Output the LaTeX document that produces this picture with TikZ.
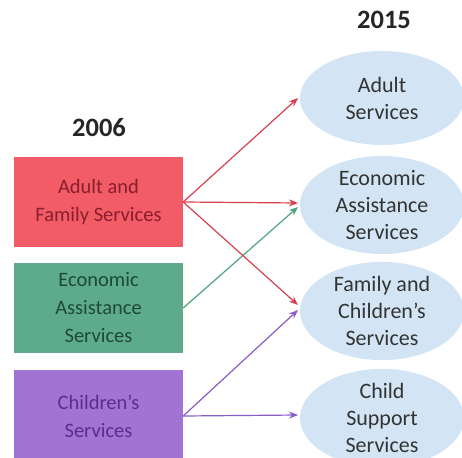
\documentclass[tikz,border=0pt]{standalone}
\usepackage{fontspec}
\setmainfont{Carlito}
\usetikzlibrary{shapes.geometric,arrows.meta}
\definecolor{rbox}{HTML}{F25C66}
\definecolor{gbox}{HTML}{5EAA8D}
\definecolor{pbox}{HTML}{A173D2}
\definecolor{ell}{HTML}{D3E5F5}
\definecolor{rtxt}{HTML}{8A1E2C}
\definecolor{gtxt}{HTML}{1D4A38}
\definecolor{ptxt}{HTML}{5B2D8E}
\definecolor{rarr}{HTML}{D8404F}
\definecolor{garr}{HTML}{4FA27F}
\definecolor{parr}{HTML}{8A5CC8}
\begin{document}
\begin{tikzpicture}[x=1pt,y=-1pt,
  oldbox/.style={rectangle, minimum width=169pt, minimum height=90pt, inner sep=0pt, align=center,
    font=\fontsize{20.5}{28}\selectfont},
  newell/.style={ellipse, fill=ell, minimum width=164pt, minimum height=94pt, inner sep=0pt, align=center,
    font=\fontsize{22}{27}\selectfont, text=black!80},
  title/.style={font=\bfseries\fontsize{26.5}{30}\selectfont, text=black!85},
  conn/.style={line width=1.2pt, -{Stealth[length=9pt,width=7pt]}}]
\useasboundingbox (0,0) rectangle (462,457);
\node[title] (t2006) at (99,128) {2006};
\node[title] (t2015) at (384,20) {2015};
\node[oldbox, fill=rbox, text=rtxt] (afs) at (98.5,202) {Adult and\\Family Services};
\node[oldbox, fill=gbox, text=gtxt] (eas) at (98.5,308) {Economic\\Assistance\\Services};
\node[oldbox, fill=pbox, text=ptxt, minimum height=92pt] (cs) at (98.5,416) {Children's\\Services};
\node[newell] (as) at (382,98) {Adult\\Services};
\node[newell] (eas2) at (382,205) {Economic\\Assistance\\Services};
\node[newell] (fcs) at (382,311) {Family and\\Children’s\\Services};
\node[newell] (css) at (382,418) {Child\\Support\\Services};
\coordinate (ra) at (298,98);
\coordinate (rb) at (298,203);
\coordinate (rc) at (298,305);
\coordinate (ga) at (298,207);
\coordinate (pa) at (298,310);
\coordinate (pb) at (298,415);
\draw[conn, rarr] (afs.east) -- (ra);
\draw[conn, rarr] (afs.east) -- (rb);
\draw[conn, garr] (eas.east) -- (ga);
\draw[conn, rarr] (afs.east) -- (rc);
\draw[conn, parr] (cs.east) -- (pa);
\draw[conn, parr] (cs.east) -- (pb);
\end{tikzpicture}
\end{document}
